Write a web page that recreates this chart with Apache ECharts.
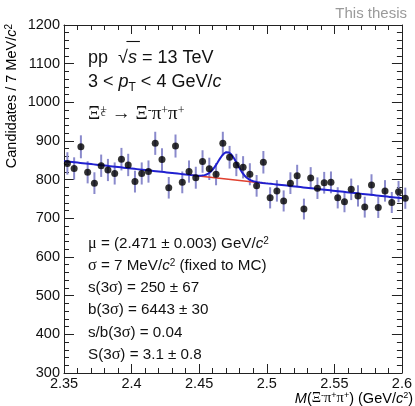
<!DOCTYPE html>
<html><head><meta charset="utf-8">
<script src="https://cdn.jsdelivr.net/npm/echarts@6/dist/echarts.min.js"></script>
<style>html,body{margin:0;padding:0;background:#fff}#c{width:415px;height:406px}</style>
</head><body><div id="c"></div>
<script>
// ---- data ----
const massBins = [2.3525,2.3575,2.3625,2.3675,2.3725,2.3775,2.3825,2.3875,2.3925,2.3975,
  2.4025,2.4075,2.4125,2.4175,2.4225,2.4275,2.4325,2.4375,2.4425,2.4475,
  2.4525,2.4575,2.4625,2.4675,2.4725,2.4775,2.4825,2.4875,2.4925,2.4975,
  2.5025,2.5075,2.5125,2.5175,2.5225,2.5275,2.5325,2.5375,2.5425,2.5475,
  2.5525,2.5575,2.5625,2.5675,2.5725,2.5775,2.5825,2.5875,2.5925,2.5975,2.6025];
const counts = [842,829,885,819,791,836,825,816,853,838,
  795,816,821,894,852,779,887,793,821,805,
  847,828,814,894,858,838,832,814,784,845,
  753,771,745,791,810,724,804,778,792,793,
  753,743,775,758,729,786,728,771,741,769,752];
const countErrors = [29.0,28.8,29.7,28.6,28.1,28.9,28.7,28.6,29.2,28.9,
  28.2,28.6,28.7,29.9,29.2,27.9,29.8,28.2,28.7,28.4,
  29.1,28.8,28.5,29.9,29.3,28.9,28.8,28.5,28.0,29.1,
  27.4,27.8,27.3,28.1,28.5,26.9,28.4,27.9,28.1,28.2,
  27.4,27.3,27.8,27.5,27.0,28.0,27.0,27.8,27.2,27.7,27.4];
const xTicks = [2.35,2.4,2.45,2.5,2.55,2.6];
const yTicks = [300,400,500,600,700,800,900,1000,1100,1200];
// fit model parameters
const fitMu = 2.471, fitSigma = 0.007, fitAmp = 70;
const bgAtLow = 848, bgAtHigh = 752, fitLow = 2.35, fitHigh = 2.6;

function bg(x){ return bgAtLow + (bgAtHigh-bgAtLow)*(x-fitLow)/(fitHigh-fitLow); }
function total(x){ return bg(x) + fitAmp*Math.exp(-0.5*Math.pow((x-fitMu)/fitSigma,2)); }
const totalCurve = [], bgCurve = [];
for (let k=0;k<=500;k++){ const x = fitLow + (fitHigh-fitLow)*k/500; totalCurve.push([x,total(x)]); }
for (let k=0;k<=100;k++){ const x = fitMu-4*fitSigma + 8*fitSigma*k/100; bgCurve.push([x,bg(x)]); }

const pts = massBins.map((m,i)=>[m,counts[i]]);
const errs = massBins.map((m,i)=>[m,counts[i]-countErrors[i],counts[i]+countErrors[i]]);

const SANS = 'Liberation Sans, Arial, Helvetica, sans-serif';
const SERIF = 'Liberation Serif, Times New Roman, serif';
const TXT = '#111';

// text measuring for the overline and the stacked sub/superscript
const mctx = document.createElement('canvas').getContext('2d');
function tw(str, font){ mctx.font = font; return mctx.measureText(str).width; }

const chart = echarts.init(document.getElementById('c'), null, {renderer:'canvas'});
const axisCommon = {
  axisLine:{show:true, onZero:false, lineStyle:{color:'#222', width:1}},
  splitLine:{show:false},
};
const fs = 14.5;
const BF = 15.2;
const rich = {
  n:{fontFamily:SANS,fontSize:BF,color:TXT},
  i:{fontFamily:SANS,fontSize:BF,fontStyle:'italic',color:TXT},
  g:{fontFamily:SERIF,fontSize:BF+1,color:TXT},
  sup:{fontFamily:SANS,fontSize:10,color:TXT,verticalAlign:'top'},
};
function richLine(x,y,text,extraRich){
  return {type:'text', left:x, top:y, z:100,
    style:{text:text, rich:Object.assign({},rich,extraRich||{}), fill:TXT, textVerticalAlign:'middle'}};
}
const TF = 18;
const TX = 88;
const rootW = tw('pp  \u221A', TF+'px '+SANS);
const sW = tw('s', 'italic '+TF+'px '+SANS);
const xiW = tw('\u039E', '19px '+SERIF);

chart.setOption({
  animation:false,
  grid:{left:64, right:8, top:25, bottom:33, containLabel:false},
  xAxis:[
    Object.assign({type:'value', min:2.35, max:2.6, interval:0.05, position:'bottom',
      axisTick:{show:true, inside:true, length:9, lineStyle:{color:'#222'}},
      minorTick:{show:true, splitNumber:5, length:5, lineStyle:{color:'#222'}},
      axisLabel:{show:true, margin:3, color:TXT, fontFamily:SANS, fontSize:fs,
        formatter:v=>String(+v.toFixed(2)), showMinLabel:true, showMaxLabel:true}}, axisCommon),
    Object.assign({type:'value', min:2.35, max:2.6, interval:0.05, position:'top',
      axisTick:{show:true, inside:true, length:9, lineStyle:{color:'#222'}},
      minorTick:{show:true, splitNumber:5, length:5, lineStyle:{color:'#222'}},
      axisLabel:{show:false}}, axisCommon)
  ],
  yAxis:[
    Object.assign({type:'value', min:300, max:1200, interval:100, position:'left',
      axisTick:{show:true, inside:true, length:10, lineStyle:{color:'#222'}},
      minorTick:{show:true, splitNumber:5, length:5, lineStyle:{color:'#222'}},
      axisLabel:{show:true, margin:4, color:TXT, fontFamily:SANS, fontSize:fs, formatter:v=>String(v)}}, axisCommon),
    Object.assign({type:'value', min:300, max:1200, interval:100, position:'right',
      axisTick:{show:true, inside:true, length:10, lineStyle:{color:'#222'}},
      minorTick:{show:true, splitNumber:5, length:5, lineStyle:{color:'#222'}},
      axisLabel:{show:false}}, axisCommon)
  ],
  series:[
    {type:'custom', xAxisIndex:0, yAxisIndex:0, clip:false, z:2,
     renderItem:function(params, api){
       const x=api.value(0), lo=api.value(1), hi=api.value(2);
       const p1=api.coord([x,lo]), p2=api.coord([x,hi]);
       return {type:'line', shape:{x1:p1[0],y1:p1[1],x2:p2[0],y2:p2[1]},
         style:{stroke:'#8a8acc', lineWidth:2}};
     },
     encode:{x:0,y:[1,2]}, data:errs},
    {type:'line', data:bgCurve, showSymbol:false, symbol:'none', z:3,
     lineStyle:{color:'#e0402f', width:1.5}},
    {type:'line', data:totalCurve, showSymbol:false, symbol:'none', z:4,
     lineStyle:{color:'#2020d0', width:2}},
    {type:'scatter', data:pts, symbol:'circle', symbolSize:7, clip:false, z:5,
     itemStyle:{color:'#000'}}
  ],
  graphic:[
    {type:'text', right:8, top:6, style:{text:'This thesis', fill:'#9a9a9a', font:'15px '+SANS}},
    {type:'text', x:12, y:24, rotation:Math.PI/2, z:100,
     style:{text:'{n|Candidates / 7 MeV/}{i|c}{sup|2}', rich:{
       n:{fontFamily:SANS,fontSize:14.5,color:TXT}, i:{fontFamily:SANS,fontSize:14.5,fontStyle:'italic',color:TXT},
       sup:{fontFamily:SANS,fontSize:10,color:TXT,verticalAlign:'top'}},
       textAlign:'right', textVerticalAlign:'middle'}},
    {type:'text', right:2, top:391, z:100,
     style:{text:'{i|M}{n|(}{g|Ξ}{sup|-}{g|π}{sup|+}{g|π}{sup|+}{n|) (GeV/}{i|c}{sup|2}{n|)}', rich:{
       n:{fontFamily:SANS,fontSize:14.5,color:TXT}, i:{fontFamily:SANS,fontSize:14.5,fontStyle:'italic',color:TXT},
       g:{fontFamily:SERIF,fontSize:14.5,color:TXT},
       sup:{fontFamily:SANS,fontSize:9,color:TXT,verticalAlign:'top'}}}},
    richLine(TX,49,'{n|pp  √}{i|s}{n| = 13 TeV}',{n:{fontFamily:SANS,fontSize:TF,color:TXT},i:{fontFamily:SANS,fontSize:TF,fontStyle:'italic',color:TXT}}),
    {type:'line', z:100, shape:{x1:TX+rootW-1.5, y1:41.5, x2:TX+rootW+sW+3, y2:41.5}, style:{stroke:TXT, lineWidth:1.1}},
    richLine(TX,73,'{n|3 < }{i|p}{sub|T}{n| < 4 GeV/}{i|c}',{n:{fontFamily:SANS,fontSize:TF,color:TXT,lineHeight:24},i:{fontFamily:SANS,fontSize:TF,fontStyle:'italic',color:TXT,lineHeight:24},sub:{fontFamily:SANS,fontSize:12,color:TXT,verticalAlign:'bottom',lineHeight:12}}),
    richLine(TX,105,'{g|Ξ}{sp|+}{g| → Ξ}{sp|-}{g|π}{sp|+}{g|π}{sp|+}',{g:{fontFamily:SERIF,fontSize:19,color:TXT},sp:{fontFamily:SERIF,fontSize:12,color:TXT,verticalAlign:'top'}}),
    {type:'text', left:TX+xiW+0.5, top:108, z:100, style:{text:'c', fill:TXT, font:'11px '+SERIF}},
    richLine(TX,236,'{g|μ}{n| = (2.471 ± 0.003) GeV/}{i|c}{sup|2}'),
    richLine(TX,258,'{g|σ}{n| = 7 MeV/}{i|c}{sup|2}{n| (fixed to MC)}'),
    richLine(TX,280,'{n|s(3}{g|σ}{n|) = 250 ± 67}'),
    richLine(TX,302,'{n|b(3}{g|σ}{n|) = 6443 ± 30}'),
    richLine(TX,325,'{n|s/b(3}{g|σ}{n|) = 0.04}'),
    richLine(TX,347,'{n|S(3}{g|σ}{n|) = 3.1 ± 0.8}')
  ]
});
</script></body></html>
